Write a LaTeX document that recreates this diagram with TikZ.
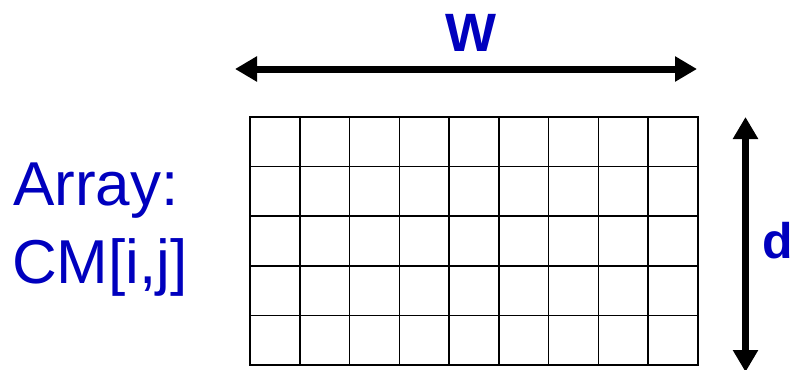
\documentclass[tikz,border=0pt]{standalone}
\usepackage{fontspec}
\setmainfont{Liberation Sans}
\usetikzlibrary{arrows.meta}
\definecolor{labelblue}{RGB}{0,0,190}
\begin{document}
\begin{tikzpicture}[x=1pt,y=-1pt,
  dimarrow/.style={line width=7pt,{Triangle[length=22pt,width=24pt]}-{Triangle[length=22pt,width=24pt]}},
  dimlabel/.style={text=labelblue,font=\fontsize{54}{60}\selectfont\bfseries,inner sep=0pt},
  gridline/.style={line width=1.6pt,black}]
\useasboundingbox (0,0) rectangle (794,369);
% 9 x 5 array of cells
\foreach \i in {1,...,8}
  \draw[gridline] ({250+\i*49.78},117) -- ({250+\i*49.78},365);
\foreach \j in {1,...,4}
  \draw[gridline] (250,{117+\j*49.6}) -- (698,{117+\j*49.6});
\draw[gridline] (250,117) rectangle (698,365);
% width and depth dimension arrows
\coordinate (wl) at (235,69);
\coordinate (wr) at (697,69);
\coordinate (dt) at (745.5,117);
\coordinate (db) at (745.5,372);
\draw[dimarrow] (wl) -- (wr);
\draw[dimarrow] (dt) -- (db);
\node[dimlabel,anchor=base] (w) at (471,52) {W};
\node[dimlabel,anchor=base west,font=\fontsize{50}{60}\selectfont\bfseries] (d) at (762,258) {d};
% array name
\node[text=labelblue,font=\fontsize{62}{78}\selectfont,anchor=base west,inner sep=0pt] (a1) at (13,205) {Array:};
\node[text=labelblue,font=\fontsize{62}{78}\selectfont,anchor=base west,inner sep=0pt] (a2) at (12,283) {CM[i,j]};
\end{tikzpicture}
\end{document}
